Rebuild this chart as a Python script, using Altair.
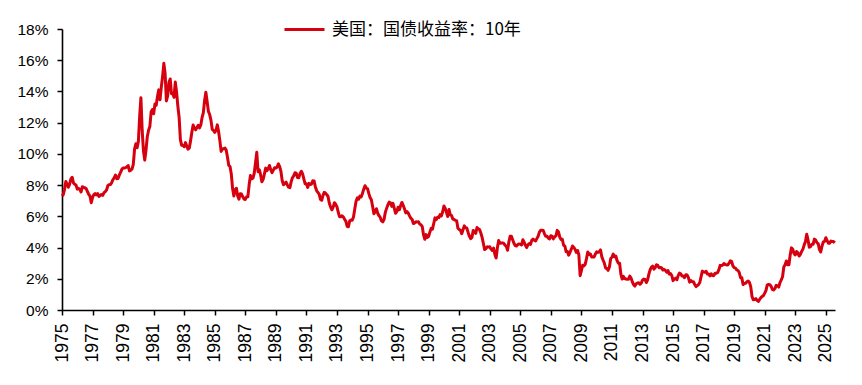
import altair as alt
import pandas as pd

series_name = "美国：国债收益率：10年"

years = list(range(1975, 2026))

y1975 = [7.30, 7.39, 7.73, 8.23, 8.06, 7.86, 8.06, 8.40, 8.50, 8.14, 8.05, 8.00]
y1976 = [7.74, 7.79, 7.73, 7.56, 7.90, 7.86, 7.83, 7.77, 7.59, 7.41, 7.29, 6.87]
y1977 = [7.21, 7.39, 7.46, 7.37, 7.46, 7.28, 7.33, 7.40, 7.34, 7.52, 7.58, 7.69]
y1978 = [7.96, 8.03, 8.04, 8.15, 8.35, 8.46, 8.64, 8.41, 8.42, 8.64, 8.81, 9.01]
y1979 = [9.10, 9.10, 9.12, 9.18, 9.25, 8.91, 8.95, 9.03, 9.33, 10.30, 10.65, 10.39]
y1980 = [10.80, 12.41, 13.60, 11.47, 10.18, 9.60, 10.25, 11.10, 11.51, 11.75, 12.68, 12.84]
y1981 = [12.57, 13.19, 13.12, 13.68, 14.10, 13.47, 14.28, 14.94, 15.80, 15.15, 13.39, 13.72]
y1982 = [14.59, 14.80, 13.86, 13.87, 13.62, 14.60, 13.95, 13.06, 12.34, 10.91, 10.55, 10.54]
y1983 = [10.46, 10.72, 10.51, 10.30, 10.38, 10.85, 11.38, 11.85, 11.65, 11.54, 11.69, 11.83]
y1984 = [11.67, 11.84, 12.32, 12.63, 13.41, 13.95, 13.36, 12.72, 12.52, 12.16, 11.57, 11.50]
y1985 = [11.38, 11.51, 11.86, 11.43, 10.85, 10.16, 10.31, 10.33, 10.37, 10.24, 9.78, 9.26]
y1986 = [9.19, 8.70, 7.78, 7.30, 7.71, 7.80, 7.30, 7.10, 7.45, 7.43, 7.25, 7.11]
y1987 = [7.08, 7.25, 7.25, 8.02, 8.61, 8.40, 8.45, 8.76, 9.42, 10.10, 8.86, 8.99]
y1988 = [8.67, 8.21, 8.37, 8.72, 9.09, 8.92, 9.06, 9.26, 8.98, 8.80, 8.96, 9.11]
y1989 = [9.09, 9.17, 9.36, 9.18, 8.86, 8.28, 8.02, 8.11, 8.19, 8.01, 7.87, 7.84]
y1990 = [8.21, 8.47, 8.59, 8.79, 8.76, 8.48, 8.47, 8.75, 8.89, 8.72, 8.39, 8.08]
y1991 = [8.09, 7.85, 8.11, 8.04, 8.07, 8.28, 8.27, 7.90, 7.65, 7.53, 7.42, 7.09]
y1992 = [7.03, 7.34, 7.54, 7.48, 7.39, 7.26, 6.84, 6.59, 6.42, 6.59, 6.87, 6.77]
y1993 = [6.60, 6.26, 5.98, 5.97, 6.04, 5.96, 5.81, 5.68, 5.36, 5.33, 5.72, 5.77]
y1994 = [5.75, 5.97, 6.48, 6.97, 7.18, 7.10, 7.30, 7.24, 7.46, 7.74, 7.96, 7.81]
y1995 = [7.78, 7.47, 7.20, 7.06, 6.63, 6.17, 6.28, 6.49, 6.20, 6.04, 5.93, 5.71]
y1996 = [5.65, 5.81, 6.27, 6.51, 6.74, 6.91, 6.87, 6.64, 6.83, 6.53, 6.20, 6.30]
y1997 = [6.58, 6.42, 6.69, 6.89, 6.71, 6.49, 6.22, 6.30, 6.21, 6.03, 5.88, 5.81]
y1998 = [5.54, 5.57, 5.65, 5.64, 5.65, 5.50, 5.46, 5.34, 4.81, 4.53, 4.83, 4.65]
y1999 = [4.72, 5.00, 5.23, 5.18, 5.54, 5.90, 5.79, 5.94, 5.92, 6.11, 6.03, 6.28]
y2000 = [6.66, 6.52, 6.26, 5.99, 6.44, 6.10, 6.05, 5.83, 5.80, 5.74, 5.72, 5.24]
y2001 = [5.16, 5.10, 4.89, 5.14, 5.39, 5.28, 5.24, 4.97, 4.73, 4.57, 4.65, 5.09]
y2002 = [5.04, 4.91, 5.28, 5.21, 5.16, 4.93, 4.65, 4.26, 3.87, 3.94, 4.05, 4.03]
y2003 = [4.05, 3.90, 3.81, 3.96, 3.57, 3.33, 3.98, 4.45, 4.27, 4.29, 4.30, 4.27]
y2004 = [4.15, 4.08, 3.83, 4.35, 4.72, 4.73, 4.50, 4.28, 4.13, 4.10, 4.19, 4.23]
y2005 = [4.22, 4.17, 4.50, 4.34, 4.14, 4.00, 4.18, 4.26, 4.20, 4.46, 4.54, 4.47]
y2006 = [4.42, 4.57, 4.72, 4.99, 5.11, 5.11, 5.09, 4.88, 4.72, 4.73, 4.60, 4.56]
y2007 = [4.76, 4.72, 4.56, 4.69, 4.75, 5.10, 5.00, 4.67, 4.52, 4.53, 4.15, 4.10]
y2008 = [3.74, 3.74, 3.51, 3.68, 3.88, 4.10, 4.01, 3.89, 3.69, 3.81, 3.53, 2.20]
y2009 = [2.52, 2.87, 2.82, 2.93, 3.29, 3.72, 3.56, 3.59, 3.40, 3.39, 3.40, 3.59]
y2010 = [3.73, 3.69, 3.73, 3.85, 3.42, 3.20, 3.01, 2.70, 2.65, 2.54, 2.76, 3.29]
y2011 = [3.39, 3.58, 3.41, 3.46, 3.17, 3.00, 3.00, 2.30, 1.98, 2.15, 2.01, 1.98]
y2012 = [1.97, 1.97, 2.17, 2.05, 1.80, 1.62, 1.53, 1.68, 1.72, 1.75, 1.65, 1.72]
y2013 = [1.91, 1.98, 1.96, 1.76, 1.93, 2.30, 2.58, 2.74, 2.81, 2.62, 2.72, 2.90]
y2014 = [2.86, 2.71, 2.72, 2.71, 2.56, 2.60, 2.54, 2.42, 2.53, 2.30, 2.33, 2.21]
y2015 = [1.88, 1.98, 2.04, 1.94, 2.20, 2.36, 2.32, 2.17, 2.17, 2.07, 2.26, 2.24]
y2016 = [2.09, 1.78, 1.89, 1.81, 1.81, 1.64, 1.50, 1.56, 1.63, 1.76, 2.14, 2.49]
y2017 = [2.43, 2.42, 2.48, 2.30, 2.30, 2.19, 2.32, 2.21, 2.20, 2.36, 2.35, 2.40]
y2018 = [2.58, 2.86, 2.84, 2.87, 2.98, 2.91, 2.89, 2.89, 3.00, 3.15, 3.12, 2.83]
y2019 = [2.71, 2.68, 2.57, 2.53, 2.40, 2.07, 2.06, 1.63, 1.70, 1.71, 1.81, 1.86]
y2020 = [1.76, 1.50, 0.87, 0.66, 0.67, 0.73, 0.62, 0.55, 0.68, 0.79, 0.87, 0.93]
y2021 = [1.08, 1.26, 1.61, 1.64, 1.62, 1.52, 1.32, 1.28, 1.37, 1.58, 1.56, 1.47]
y2022 = [1.76, 1.93, 2.13, 2.75, 2.90, 3.14, 2.90, 2.90, 3.52, 3.98, 3.89, 3.62]
y2023 = [3.53, 3.75, 3.66, 3.46, 3.57, 3.75, 3.90, 4.17, 4.38, 4.85, 4.50, 4.02]
y2024 = [4.06, 4.21, 4.21, 4.54, 4.48, 4.31, 4.25, 3.87, 3.72, 4.10, 4.36, 4.39]
y2025 = [4.63, 4.45, 4.28, 4.28, 4.42, 4.38, 4.39, 4.30]

yearly = [y1975, y1976, y1977, y1978, y1979, y1980, y1981, y1982, y1983, y1984,
          y1985, y1986, y1987, y1988, y1989, y1990, y1991, y1992, y1993, y1994,
          y1995, y1996, y1997, y1998, y1999, y2000, y2001, y2002, y2003, y2004,
          y2005, y2006, y2007, y2008, y2009, y2010, y2011, y2012, y2013, y2014,
          y2015, y2016, y2017, y2018, y2019, y2020, y2021, y2022, y2023, y2024,
          y2025]

x_ticks = list(range(1975, 2026, 2))
y_ticks = list(range(0, 19, 2))

rows = []
for yr, vals in zip(years, yearly):
    for m, v in enumerate(vals):
        rows.append({"t": yr + m / 12.0, "v": v, "s": series_name})
df = pd.DataFrame(rows)

FONT = "Liberation Sans"

chart = alt.Chart(df).mark_line(strokeWidth=3, strokeJoin="round").encode(
    x=alt.X("t:Q",
            scale=alt.Scale(domain=[1975, 2025.6], nice=False, zero=False),
            axis=alt.Axis(values=x_ticks, format="d", title=None, grid=False,
                          labelAngle=270, labelAlign="right", labelBaseline="middle",
                          labelPadding=8, labelFontSize=17.5, labelFont=FONT,
                          labelColor="black", tickColor="black", domainColor="black",
                          tickSize=5, domainWidth=1.6, tickWidth=1.5,
                          labelOverlap=False)),
    y=alt.Y("v:Q",
            scale=alt.Scale(domain=[0, 18], nice=False),
            axis=alt.Axis(values=y_ticks, labelExpr="datum.value + '%'", title=None,
                          grid=False, labelFontSize=15.5, labelFont=FONT,
                          labelColor="black", tickColor="black", domainColor="black",
                          tickSize=5, domainWidth=1.6, tickWidth=1.5, labelPadding=9)),
    color=alt.Color("s:N",
                    scale=alt.Scale(domain=[series_name], range=["#d7000f"]),
                    legend=alt.Legend(title=None, orient="none", legendX=221, legendY=-21,
                                      symbolType="stroke", symbolSize=1600,
                                      symbolStrokeWidth=3, labelFontSize=17,
                                      labelFont="Noto Sans CJK SC", labelColor="black",
                                      labelOffset=6, labelLimit=400)),
).properties(
    width=773, height=281,
    padding={"left": 54, "top": 21, "right": 10, "bottom": 60},
    autosize=alt.AutoSizeParams(type="none"),
).configure_view(stroke=None)

chart.save("out.html", embed_options={"renderer": "svg", "actions": False})
